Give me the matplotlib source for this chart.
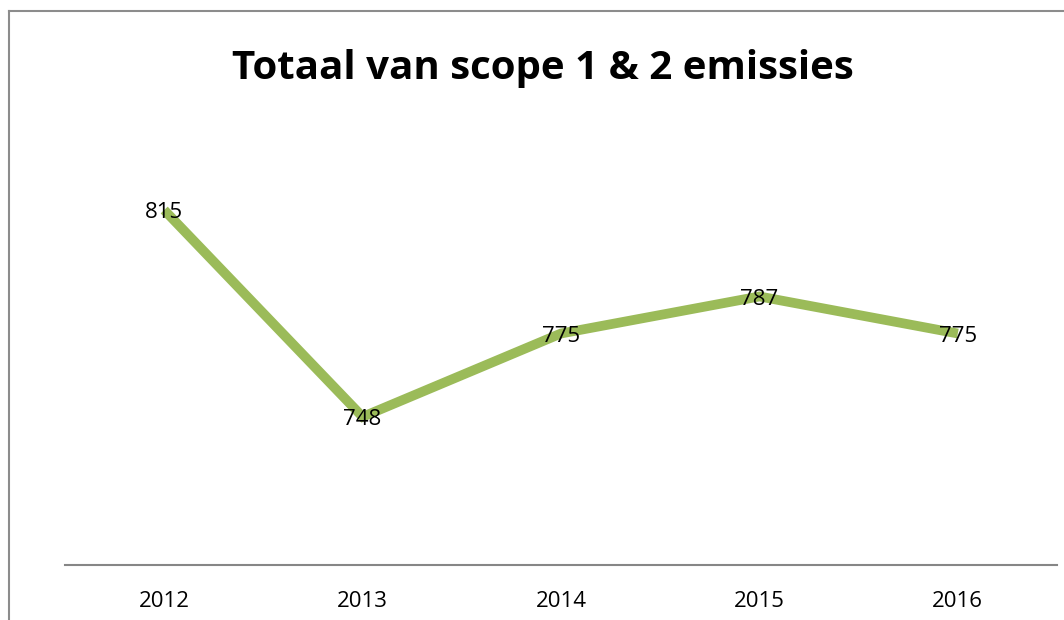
import matplotlib
matplotlib.use("Agg")
import matplotlib.pyplot as plt
from matplotlib.lines import Line2D

years = ["2012", "2013", "2014", "2015", "2016"]
emissions = [815, 748, 775, 787, 775]
title = "Totaal van scope 1 & 2 emissies"

plt.rcParams['font.family'] = ['Open Sans', 'DejaVu Sans']

W, H = 1064, 620
fig = plt.figure(figsize=(W / 100, H / 100), dpi=100)
ax = fig.add_axes([65 / W, 1 - 565 / H, (1057 - 65) / W, (565 - 102) / H])

x = list(range(len(years)))
ax.plot(x, emissions, color="#9BBB59", linewidth=7, solid_capstyle="butt", solid_joinstyle="miter", zorder=2)
for xi, v in zip(x, emissions):
    ax.annotate(str(v), (xi, v), xytext=(0, -2), textcoords="offset points",
                ha="center", va="center", fontsize=16, color="black", zorder=3)

ax.set_xlim(-0.5, len(years) - 0.5)
ax.set_ylim(700, 850)
ax.set_xticks(x)
ax.set_xticklabels(years, fontsize=16)
ax.tick_params(axis="x", length=0, pad=19)
ax.set_yticks([])
for s in ["top", "right", "left"]:
    ax.spines[s].set_visible(False)
ax.spines["bottom"].set_color("#868686")
ax.spines["bottom"].set_linewidth(1.5)

fig.text(543 / W, 1 - 68 / H, title, ha="center", va="center", fontsize=29, fontweight="bold")

# outer chart frame (cropped: only left and top edges visible)
fig.add_artist(Line2D([8.5 / W, 8.5 / W], [0, 1 - 11 / H], transform=fig.transFigure, color="#8c8c8c", linewidth=1.5))
fig.add_artist(Line2D([8.5 / W, 1], [1 - 11 / H, 1 - 11 / H], transform=fig.transFigure, color="#8c8c8c", linewidth=1.5))

fig.savefig("out.png", dpi=100)
